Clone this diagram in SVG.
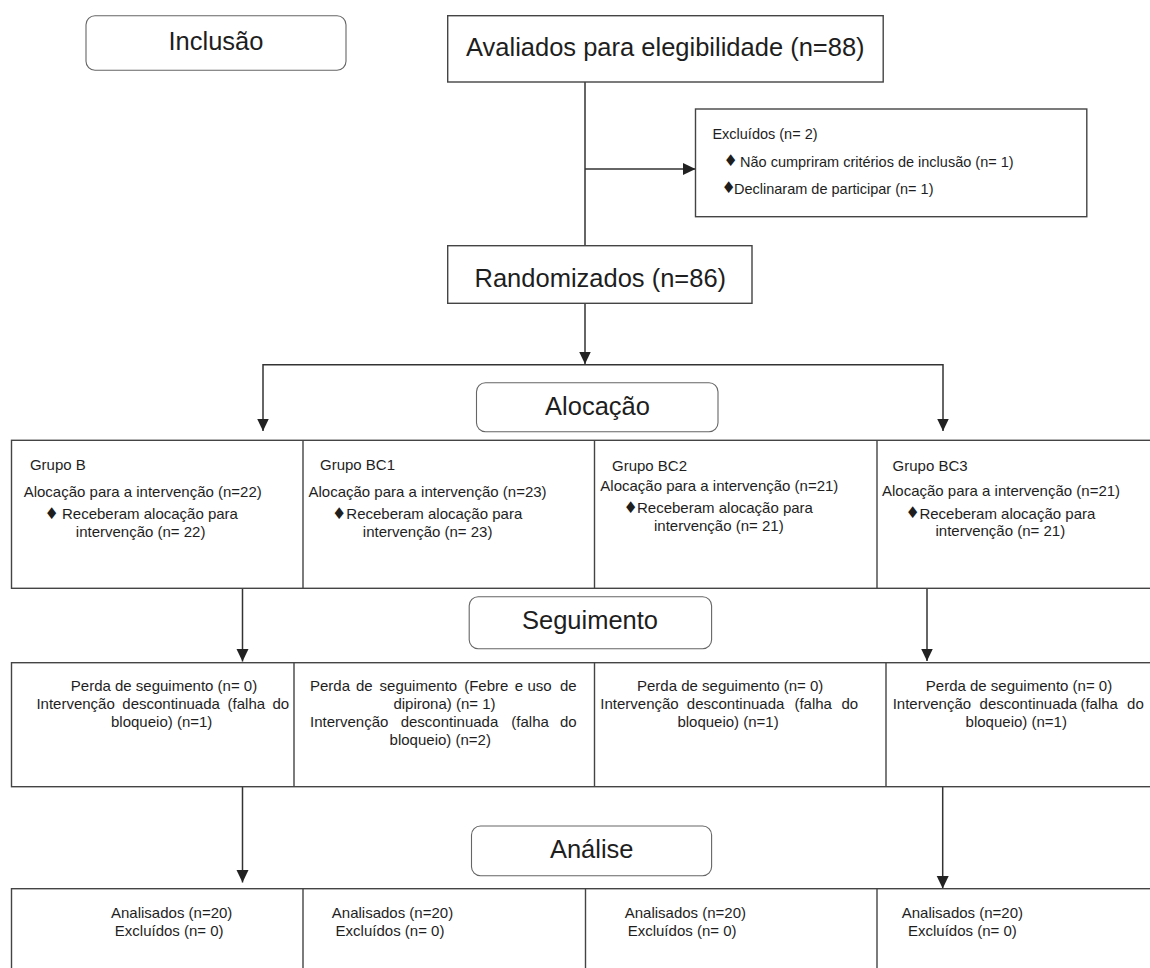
<svg xmlns="http://www.w3.org/2000/svg" width="1150" height="968" viewBox="0 0 1150 968">
<defs>
<marker id="ah" markerUnits="userSpaceOnUse" markerWidth="13" markerHeight="13" refX="12.5" refY="6.5" orient="auto">
<path d="M0,0.5 L12.5,6.5 L0,12.5 z" fill="#222"/>
</marker>
<style>
.box{fill:#fff;stroke:#444;stroke-width:1.4}
.rbox{fill:#fff;stroke:#666;stroke-width:1.1}
.ln{fill:none;stroke:#333;stroke-width:1.5}
.big{font-family:"Liberation Sans",Arial,sans-serif;font-size:25.5px;fill:#1e1e1e}
.sm{font-family:"Liberation Sans",Arial,sans-serif;font-size:15px;fill:#1e1e1e}
.ex{font-family:"Liberation Sans",Arial,sans-serif;font-size:14.5px;fill:#1e1e1e}
.dm{font-family:"DejaVu Sans",sans-serif;font-size:16px}
</style>
</defs>
<rect width="1150" height="968" fill="#fff"/>

<g id="connectors">
<line class="ln" x1="585" y1="82" x2="585" y2="246"/>
<line class="ln" x1="585" y1="169" x2="695.5" y2="169" marker-end="url(#ah)"/>
<line class="ln" x1="585" y1="303" x2="585" y2="364" marker-end="url(#ah)"/>
<line class="ln" x1="263" y1="364.7" x2="943" y2="364.7"/>
<line class="ln" x1="263" y1="364" x2="263" y2="431" marker-end="url(#ah)"/>
<line class="ln" x1="943" y1="364" x2="943" y2="431" marker-end="url(#ah)"/>
<line class="ln" x1="242.5" y1="588" x2="242.5" y2="661.5" marker-end="url(#ah)"/>
<line class="ln" x1="927" y1="588" x2="927" y2="661" marker-end="url(#ah)"/>
<line class="ln" x1="242.5" y1="787" x2="242.5" y2="882.5" marker-end="url(#ah)"/>
<line class="ln" x1="942.7" y1="787" x2="942.7" y2="888.5" marker-end="url(#ah)"/>
</g>

<g id="inclusao">
<rect class="rbox" x="86" y="15.7" width="260" height="54.6" rx="9"/>
<text class="big" x="216" y="50" text-anchor="middle">Inclusão</text>
</g>

<g id="avaliados">
<rect class="box" x="447.7" y="15.7" width="435.5" height="66.3"/>
<text class="big" x="466" y="56">Avaliados para elegibilidade (n=88)</text>
</g>

<g id="excluidos">
<rect class="box" x="695.5" y="109" width="391.3" height="107.7"/>
<text class="ex" x="712.4" y="139">Excluídos (n= 2)</text>
<text class="ex" y="166.7"><tspan class="dm" x="723.5" y="166">♦</tspan><tspan x="740" y="166.7">Não cumpriram critérios de inclusão (n= 1)</tspan></text>
<text class="ex" y="194"><tspan class="dm" x="721.5" y="193.3">♦</tspan><tspan x="734" y="194">Declinaram de participar (n= 1)</tspan></text>
</g>

<g id="randomizados">
<rect class="box" x="447.7" y="245.7" width="304.3" height="57.6"/>
<text class="big" x="474.5" y="287">Randomizados (n=86)</text>
</g>

<g id="alocacao">
<rect class="rbox" x="476.5" y="382.7" width="241.5" height="49" rx="9"/>
<text class="big" x="597.5" y="414.5" text-anchor="middle">Alocação</text>
</g>

<g id="grupos">
<rect class="box" x="11.5" y="440.3" width="1145" height="148"/>
<line class="box" x1="303" y1="440.3" x2="303" y2="588.3"/>
<line class="box" x1="594.5" y1="440.3" x2="594.5" y2="588.3"/>
<line class="box" x1="877" y1="440.3" x2="877" y2="588.3"/>
</g>

<g id="grupo-b">
<text class="sm" x="29.9" y="470">Grupo B</text>
<text class="sm" x="23.7" y="496.7">Alocação para a intervenção (n=22)</text>
<text class="sm"><tspan class="dm" x="44.5" y="518.5">♦</tspan><tspan x="62" y="519.3">Receberam alocação para</tspan></text>
<text class="sm" x="75.8" y="536.7">intervenção (n= 22)</text>
</g>

<g id="grupo-bc1">
<text class="sm" x="320" y="470">Grupo BC1</text>
<text class="sm" x="308.5" y="496.7">Alocação para a intervenção (n=23)</text>
<text class="sm"><tspan class="dm" x="332" y="518.5">♦</tspan><tspan x="346.3" y="519.3">Receberam alocação para</tspan></text>
<text class="sm" x="362.8" y="536.7">intervenção (n= 23)</text>
</g>

<g id="grupo-bc2">
<text class="sm" x="612" y="470.7">Grupo BC2</text>
<text class="sm" x="600.3" y="490.7">Alocação para a intervenção (n=21)</text>
<text class="sm"><tspan class="dm" x="623.5" y="512.5">♦</tspan><tspan x="637" y="513.3">Receberam alocação para</tspan></text>
<text class="sm" x="654" y="530.7">intervenção (n= 21)</text>
</g>

<g id="grupo-bc3">
<text class="sm" x="892.6" y="470.7">Grupo BC3</text>
<text class="sm" x="882" y="496">Alocação para a intervenção (n=21)</text>
<text class="sm"><tspan class="dm" x="905.5" y="518">♦</tspan><tspan x="919.4" y="518.7">Receberam alocação para</tspan></text>
<text class="sm" x="935.5" y="536">intervenção (n= 21)</text>
</g>

<g id="seguimento">
<rect class="rbox" x="469.2" y="596.7" width="242.4" height="52" rx="9"/>
<text class="big" x="590" y="628.5" text-anchor="middle">Seguimento</text>
</g>

<g id="follow-row">
<rect class="box" x="11.5" y="662.7" width="1145" height="124"/>
<line class="box" x1="294" y1="662.7" x2="294" y2="786.7"/>
<line class="box" x1="594.5" y1="662.7" x2="594.5" y2="786.7"/>
<line class="box" x1="886" y1="662.7" x2="886" y2="786.7"/>
</g>

<g id="follow-b">
<text class="sm" x="70.8" y="690.7">Perda de seguimento (n= 0)</text>
<text class="sm" y="708.7"><tspan x="36.4">Intervenção</tspan><tspan x="122.3">descontinuada</tspan><tspan x="227.6">(falha</tspan><tspan x="272.4">do</tspan></text>
<text class="sm" x="111" y="726.7">bloqueio) (n=1)</text>
</g>

<g id="follow-bc1">
<text class="sm" y="690.7"><tspan x="310">Perda</tspan><tspan x="355.9">de</tspan><tspan x="379.6">seguimento</tspan><tspan x="464.2">(Febre</tspan><tspan x="514.7">e</tspan><tspan x="527.4">uso</tspan><tspan x="559.9">de</tspan></text>
<text class="sm" x="393.4" y="708.7">dipirona) (n= 1)</text>
<text class="sm" y="726.7"><tspan x="310">Intervenção</tspan><tspan x="400.7">descontinuada</tspan><tspan x="511.3">(falha</tspan><tspan x="559.9">do</tspan></text>
<text class="sm" x="389.6" y="745">bloqueio) (n=2)</text>
</g>

<g id="follow-bc2">
<text class="sm" x="637" y="690.7">Perda de seguimento (n= 0)</text>
<text class="sm" y="708.7"><tspan x="600.3">Intervenção</tspan><tspan x="686.8">descontinuada</tspan><tspan x="794.4">(falha</tspan><tspan x="841.5">do</tspan></text>
<text class="sm" x="677.4" y="726.7">bloqueio) (n=1)</text>
</g>

<g id="follow-bc3">
<text class="sm" x="925.8" y="690.7">Perda de seguimento (n= 0)</text>
<text class="sm" y="708.7"><tspan x="892.7">Intervenção</tspan><tspan x="979.6">descontinuada</tspan><tspan x="1080.4">(falha</tspan><tspan x="1127.1">do</tspan></text>
<text class="sm" x="965.6" y="726.7">bloqueio) (n=1)</text>
</g>

<g id="analise">
<rect class="rbox" x="471.5" y="826" width="240.1" height="49.7" rx="9"/>
<text class="big" x="591.7" y="857.5" text-anchor="middle">Análise</text>
</g>

<g id="analysis-row">
<rect class="box" x="11.5" y="888.7" width="1145" height="100"/>
<line class="box" x1="303" y1="888.7" x2="303" y2="975"/>
<line class="box" x1="585.5" y1="888.7" x2="585.5" y2="975"/>
<line class="box" x1="877" y1="888.7" x2="877" y2="975"/>
</g>

<g id="analysis-b">
<text class="sm" x="111" y="918.3">Analisados (n=20)</text>
<text class="sm" x="114.8" y="936">Excluídos (n= 0)</text>
</g>
<g id="analysis-bc1">
<text class="sm" x="331.8" y="918.3">Analisados (n=20)</text>
<text class="sm" x="335.6" y="936">Excluídos (n= 0)</text>
</g>
<g id="analysis-bc2">
<text class="sm" x="624.7" y="918.3">Analisados (n=20)</text>
<text class="sm" x="627.7" y="936">Excluídos (n= 0)</text>
</g>
<g id="analysis-bc3">
<text class="sm" x="901.7" y="918.3">Analisados (n=20)</text>
<text class="sm" x="908" y="936">Excluídos (n= 0)</text>
</g>
</svg>
